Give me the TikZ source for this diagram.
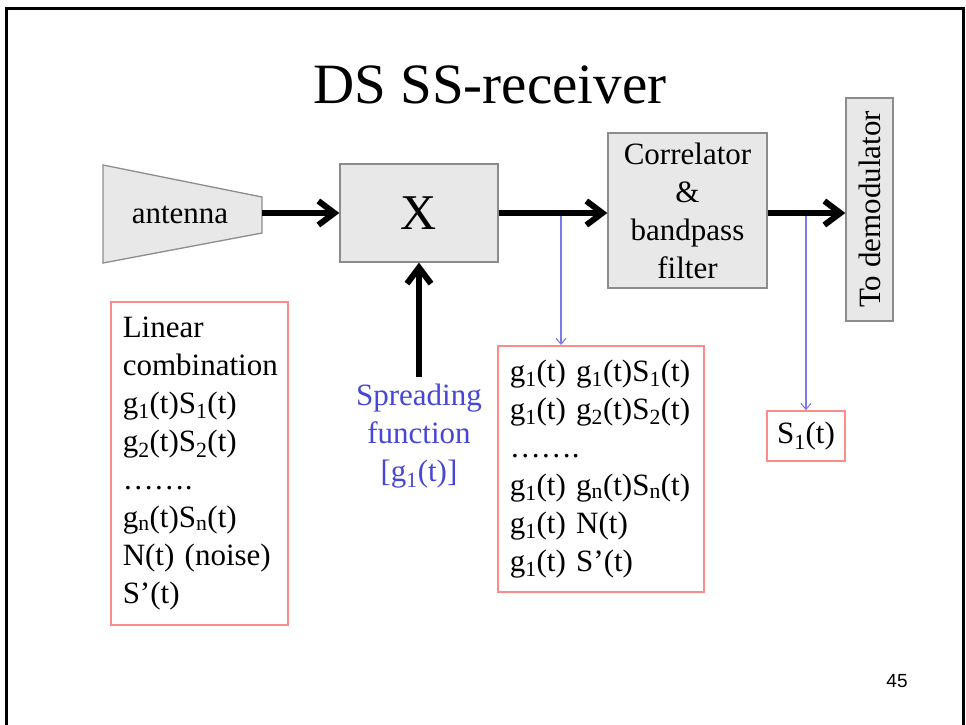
\documentclass[tikz,border=0pt]{standalone}
\usepackage{fontspec}
\setmainfont{Liberation Serif}
\newfontfamily\pagenumfont{Liberation Sans}
\usetikzlibrary{arrows.meta}
\newcommand\sbs[1]{\textsubscript{#1}}

\definecolor{boxfill}{HTML}{E8E8E8}
\definecolor{boxline}{HTML}{8C8C8C}
\definecolor{listline}{HTML}{FF8A8A}
\definecolor{tapblue}{HTML}{7A7AEE}
\definecolor{labelblue}{HTML}{4646D8}

\tikzset{
  body/.style={font=\fontsize{31}{38}\selectfont},
  block/.style={body, draw=boxline, fill=boxfill, line width=1.3pt,
    inner sep=0pt, align=center},
  listbox/.style={body, draw=listline, line width=1.5pt, inner sep=0pt,
    align=left},
  signal/.style={line width=6pt,
    -{Straight Barb[length=16pt,width=24pt,line width=6pt]}},
  tap/.style={draw=tapblue, line width=1.1pt,
    -{Straight Barb[length=6pt,width=10pt,line width=1.1pt]}},
}

\begin{document}
\begin{tikzpicture}[x=1pt, y=-1pt]
\useasboundingbox (0,0) rectangle (966,724);

% slide frame (runs off the bottom edge)
\draw[line width=3pt] (6,740) -- (6,8) -- (963,8) -- (963,740);

% title
\node[font=\fontsize{57}{60}\selectfont, anchor=base] (title) at (490,103) {DS SS-receiver};

% antenna (trapezoid) with its label
\draw[draw=boxline, fill=boxfill, line width=1.3pt]
  (103,165) -- (262,197) -- (262,233) -- (103,263) -- cycle;
\node[body] (ant) at (180,215) {antenna};
\coordinate (antR) at (262,213);

% processing chain
\node[block, font=\fontsize{50}{52}\selectfont,
      minimum width=158pt, minimum height=98pt] (xbox) at (419,213) {X};
\node[block, minimum width=159pt, minimum height=155pt] (corr) at (687.5,210.5)
  {Correlator\\\&\\bandpass\\filter};
\node[block, minimum width=223pt, minimum height=47pt, rotate=90] (demod) at (869.5,209.5)
  {To demodulator};

\draw[signal] (antR) -- (xbox.west);
\draw[signal] (xbox.east) -- (xbox.east -| corr.west);
\draw[signal] (corr.east |- xbox.east) -- (demod.north |- xbox.east);

% spreading code input
\node[body, text=labelblue, align=center] (spread) at (419,436)
  {Spreading\\function\\{[}g\sbs{1}(t)]};
\coordinate (spreadTop) at (419,377);
\draw[signal] (spreadTop) -- (xbox.south);

% signal content lists
\node[listbox, anchor=north west, minimum width=177pt, minimum height=323pt,
      text width=153pt] (lin) at (110,301)
  {Linear\\combination\\g\sbs{1}(t)S\sbs{1}(t)\\g\sbs{2}(t)S\sbs{2}(t)\\……%
   .\\g\sbs{n}(t)S\sbs{n}(t)\\N(t) (noise)\\S'(t)};

\node[listbox, anchor=north west, minimum width=206pt, minimum height=246pt,
      text width=182pt] (mix) at (497,345)
  {g\sbs{1}(t) g\sbs{1}(t)S\sbs{1}(t)\\g\sbs{1}(t) g\sbs{2}(t)S\sbs{2}(t)\\……%
   .\\g\sbs{1}(t) g\sbs{n}(t)S\sbs{n}(t)\\g\sbs{1}(t) N(t)\\g\sbs{1}(t) S'(t)};

\node[listbox, align=center, minimum width=78pt, minimum height=50pt] (s1) at (806,436)
  {S\sbs{1}(t)};

% taps from the signal path
\coordinate (tap1) at (561,216);
\coordinate (tap2) at (806,216);
\draw[tap] (tap1) -- (tap1 |- mix.north);
\draw[tap] (tap2) -- (s1.north);

% page number
\node[font=\pagenumfont\fontsize{19}{22}\selectfont, anchor=base] (pnum) at (897,687) {45};
\end{tikzpicture}
\end{document}
